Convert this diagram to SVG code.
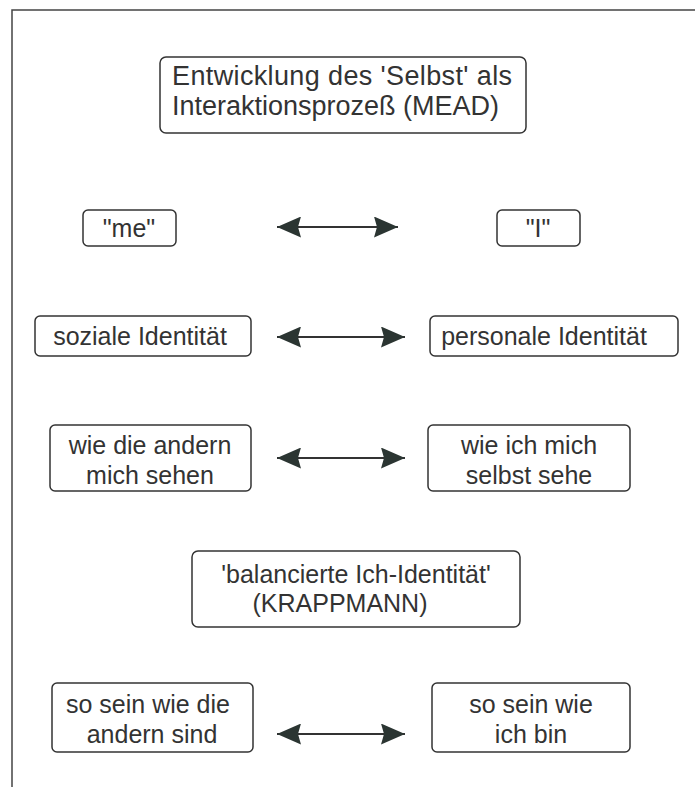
<svg xmlns="http://www.w3.org/2000/svg" width="695" height="787" viewBox="0 0 695 787">
<style>
.box{fill:#fff;stroke:#333;stroke-width:1.5}
.t{font-family:"Liberation Sans",Arial,sans-serif;font-size:25px;fill:#333}
.c{text-anchor:middle}
.big{font-size:27px}
.conn{stroke:#333;stroke-width:2;fill:none}
</style>
<defs>
<marker id="ah" viewBox="0 0 24 21" refX="24" refY="10.5" markerWidth="24" markerHeight="21" markerUnits="userSpaceOnUse" orient="auto-start-reverse">
<path d="M0,0 L24,10.5 L0,21 L3,10.5 z" fill="#2b3532"/>
</marker>
</defs>
<rect width="695" height="787" fill="#fff"/>
<path d="M12,787 V10 H695" fill="none" stroke="#444" stroke-width="1.5"/>
<g id="title"><rect class="box" x="160" y="57" width="366" height="76" rx="6"/>
<text class="t big" x="172" y="85" textLength="340" lengthAdjust="spacing">Entwicklung des 'Selbst' als</text>
<text class="t big" x="172" y="115">Interaktionsprozeß (MEAD)</text></g>
<g id="me"><rect class="box" x="83" y="210" width="93" height="36" rx="5"/>
<text class="t c" x="129" y="237">"me"</text></g>
<g id="i"><rect class="box" x="497" y="210" width="83" height="36" rx="5"/>
<text class="t c" x="538" y="237">"I"</text></g>
<g id="sozial"><rect class="box" x="35" y="316" width="216" height="40" rx="5"/>
<text class="t c" x="140" y="345">soziale Identität</text></g>
<g id="personal"><rect class="box" x="430" y="316" width="248" height="40" rx="5"/>
<text class="t c" x="544" y="345">personale Identität</text></g>
<g id="andern-sehen"><rect class="box" x="50" y="425" width="201" height="66" rx="5"/>
<text class="t c" x="150" y="454">wie die andern</text>
<text class="t c" x="150" y="484">mich sehen</text></g>
<g id="selbst-sehe"><rect class="box" x="428" y="425" width="202" height="66" rx="5"/>
<text class="t c" x="529" y="454">wie ich mich</text>
<text class="t c" x="529" y="484">selbst sehe</text></g>
<g id="krappmann"><rect class="box" x="192" y="551" width="328" height="76" rx="6"/>
<text class="t c" x="356" y="583">'balancierte Ich-Identität'</text>
<text class="t c" x="340" y="612">(KRAPPMANN)</text></g>
<g id="andern-sind"><rect class="box" x="52" y="683" width="201" height="69" rx="5"/>
<text class="t c" x="148" y="713">so sein wie die</text>
<text class="t c" x="152" y="743">andern sind</text></g>
<g id="ich-bin"><rect class="box" x="432" y="683" width="198" height="69" rx="5"/>
<text class="t c" x="531" y="713">so sein wie</text>
<text class="t c" x="531" y="743">ich bin</text></g>
<g id="connectors">
<line class="conn" x1="277" y1="227" x2="398" y2="227" marker-start="url(#ah)" marker-end="url(#ah)"/>
<line class="conn" x1="277" y1="337" x2="405" y2="337" marker-start="url(#ah)" marker-end="url(#ah)"/>
<line class="conn" x1="277" y1="458" x2="405" y2="458" marker-start="url(#ah)" marker-end="url(#ah)"/>
<line class="conn" x1="277" y1="734" x2="405" y2="734" marker-start="url(#ah)" marker-end="url(#ah)"/>
</g>
</svg>
